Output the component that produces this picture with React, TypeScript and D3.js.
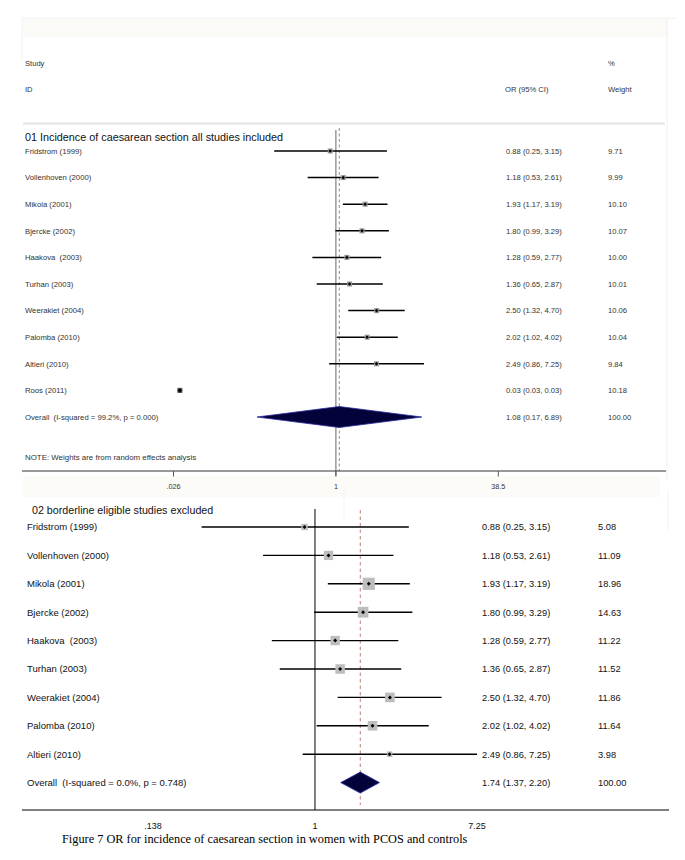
import React from "react";
import * as d3 from "d3";

const studies = ["Fridstrom (1999)", "Vollenhoven (2000)", "Mikola (2001)", "Bjercke (2002)", "Haakova  (2003)", "Turhan (2003)", "Weerakiet (2004)", "Palomba (2010)", "Altieri (2010)", "Roos (2011)"];
const orVals = [0.88, 1.18, 1.93, 1.80, 1.28, 1.36, 2.50, 2.02, 2.49, 0.03];
const loVals = [0.25, 0.53, 1.17, 0.99, 0.59, 0.65, 1.32, 1.02, 0.86, 0.03];
const hiVals = [3.15, 2.61, 3.19, 3.29, 2.77, 2.87, 4.70, 4.02, 7.25, 0.03];
const weights1 = [9.71, 9.99, 10.10, 10.07, 10.00, 10.01, 10.06, 10.04, 9.84, 10.18];
const weights2 = [5.08, 11.09, 18.96, 14.63, 11.22, 11.52, 11.86, 11.64, 3.98];
const overall1 = [1.08, 0.17, 6.89];
const overall2 = [1.74, 1.37, 2.20];
const overallLabel1 = "Overall  (I-squared = 99.2%, p = 0.000)";
const overallLabel2 = "Overall  (I-squared = 0.0%, p = 0.748)";
const ticks1 = [0.026, 1, 38.5];
const tickLabels1 = [".026", "1", "38.5"];
const ticks2 = [0.138, 1, 7.25];
const tickLabels2 = [".138", "1", "7.25"];
const title1 = "01 Incidence of caesarean section all studies included";
const title2 = "02 borderline eligible studies excluded";
const caption = "Figure 7 OR for incidence of caesarean section in women with PCOS and controls";

const fmt = (v: number) => v.toFixed(2);
const ciText = (o: number, l: number, h: number) => `${fmt(o)} (${fmt(l)}, ${fmt(h)})`;

export default function App() {
  const sans = "'Liberation Sans', Arial, sans-serif";
  const x1 = d3.scaleLog().domain([0.026, 38.5]).range([173.5, 498.3]);
  const y1 = d3.scaleLinear().domain([0, 1]).range([151, 177.6]);
  const x2 = d3.scaleLog().domain([0.138, 7.25]).range([153, 477]);
  const y2 = d3.scaleLinear().domain([0, 1]).range([527, 555.4]);
  const n1 = studies.length;
  const n2 = weights2.length;
  const yo1 = y1(n1);
  const yo2 = y2(n2);

  const diamond = (x: d3.ScaleLogarithmic<number, number>, y: number, v: number[], h: number) =>
    `M${x(v[1])},${y} L${x(v[0])},${y - h} L${x(v[2])},${y} L${x(v[0])},${y + h} Z`;

  const marker = (cx: number, cy: number, r: number) =>
    `M${cx - r},${cy} L${cx},${cy - r} L${cx + r},${cy} L${cx},${cy + r} Z`;

  return (
    <svg width={685} height={860} style={{ position: "absolute", left: 0, top: 0, display: "block", background: "#fff" }}>
      <rect x={23} y={19} width={644} height={18} fill="#fcfaf6" />
      <line x1={22} x2={676} y1={18} y2={18} stroke="#eef0f0" strokeWidth={1} />
      <line x1={22} x2={22} y1={18} y2={60} stroke="#f2f2f2" strokeWidth={1} />
      <line x1={667} x2={667} y1={19} y2={480} stroke="#f0f0f0" strokeWidth={1} />
      <rect x={23} y={476} width={637} height={21} fill="#fdfbf8" />
      <line x1={344} x2={344} y1={490} y2={523} stroke="#f3f3f3" strokeWidth={1} />
      <line x1={668} x2={668} y1={490} y2={530} stroke="#f3f3f3" strokeWidth={1} />

      <g fontFamily={sans} fontSize={7.6} fill="#333">
        <text x={25} y={66}>Study</text>
        <text x={25} y={92}>ID</text>
        <text x={505} y={92}>OR (95% CI)</text>
        <text x={608} y={66}>%</text>
        <text x={608} y={92}>Weight</text>
      </g>
      <line x1={23} x2={665} y1={123.5} y2={123.5} stroke="#e4e4e4" strokeWidth={2} />

      <line x1={x1(1)} x2={x1(1)} y1={130} y2={476} stroke="#8a8a8a" strokeWidth={1.3} />
      <line x1={x1(overall1[0])} x2={x1(overall1[0])} y1={128} y2={471} stroke="#b05a5a" strokeWidth={0.8} strokeDasharray="3,2.5" />
      <text x={25} y={141} fontFamily={sans} fontSize={10.8} fill="#111">{title1}</text>
      {studies.map((s, i) => {
        const cy = y1(i);
        const side = 1.6 * Math.sqrt(weights1[i]);
        return (
          <g key={s}>
            <text x={25} y={cy + 2.7} fontFamily={sans} fontSize={7.7} fill="#333" style={{ whiteSpace: "pre" }}>{s}</text>
            <line x1={x1(loVals[i])} x2={x1(hiVals[i])} y1={cy} y2={cy} stroke="#000" strokeWidth={1.5} />
            <rect x={x1(orVals[i]) - side / 2} y={cy - side / 2} width={side} height={side} fill={i === 9 ? "#666" : "#999"} />
            <path d={marker(x1(orVals[i]), cy, i === 9 ? 2.4 : 1.8)} fill="#000" />
            <text x={506} y={cy + 2.7} fontFamily={sans} fontSize={7.6} fill="#333">{ciText(orVals[i], loVals[i], hiVals[i])}</text>
            <text x={608} y={cy + 2.7} fontFamily={sans} fontSize={7.6} fill="#333">{fmt(weights1[i])}</text>
          </g>
        );
      })}
      <text x={25} y={yo1 + 2.7} fontFamily={sans} fontSize={7.7} fill="#333" style={{ whiteSpace: "pre" }}>{overallLabel1}</text>
      <path d={diamond(x1, yo1, overall1, 10.5)} fill="#03033a" stroke="#2a2aa0" strokeWidth={0.8} />
      <text x={506} y={yo1 + 2.7} fontFamily={sans} fontSize={7.6} fill="#333">{ciText(overall1[0], overall1[1], overall1[2])}</text>
      <text x={608} y={yo1 + 2.7} fontFamily={sans} fontSize={7.6} fill="#333">100.00</text>
      <text x={25} y={460} fontFamily={sans} fontSize={7.9} fill="#333">NOTE: Weights are from random effects analysis</text>
      <line x1={22} x2={666} y1={471} y2={471} stroke="#333" strokeWidth={1} />
      {ticks1.map((t, i) => (
        <g key={"t1" + i}>
          <line x1={x1(t)} x2={x1(t)} y1={471} y2={476.5} stroke="#555" strokeWidth={1} />
          <text x={x1(t)} y={489} textAnchor="middle" fontFamily={sans} fontSize={7.2} fill="#333">{tickLabels1[i]}</text>
        </g>
      ))}

      <line x1={x2(1)} x2={x2(1)} y1={509} y2={810} stroke="#000" strokeWidth={1} />
      <line x1={x2(overall2[0])} x2={x2(overall2[0])} y1={510} y2={805} stroke="#b05a5a" strokeWidth={0.8} strokeDasharray="3.5,3" />
      <text x={32} y={514} fontFamily={sans} fontSize={10.7} fill="#111">{title2}</text>
      {weights2.map((w, i) => {
        const cy = y2(i);
        const side = 2.8 * Math.sqrt(w);
        return (
          <g key={"b" + i}>
            <text x={27} y={cy + 3.3} fontFamily={sans} fontSize={9.5} fill="#111" style={{ whiteSpace: "pre" }}>{studies[i]}</text>
            <line x1={x2(loVals[i])} x2={x2(hiVals[i])} y1={cy} y2={cy} stroke="#000" strokeWidth={1.4} />
            <rect x={x2(orVals[i]) - side / 2} y={cy - side / 2} width={side} height={side} fill="#bdbdbd" />
            <path d={marker(x2(orVals[i]), cy, 2)} fill="#000" />
            <text x={482} y={cy + 3.3} fontFamily={sans} fontSize={9.3} fill="#111">{ciText(orVals[i], loVals[i], hiVals[i])}</text>
            <text x={598} y={cy + 3.3} fontFamily={sans} fontSize={9.3} fill="#111">{fmt(w)}</text>
          </g>
        );
      })}
      <text x={27} y={yo2 + 3.3} fontFamily={sans} fontSize={9.5} fill="#111" style={{ whiteSpace: "pre" }}>{overallLabel2}</text>
      <path d={diamond(x2, yo2, overall2, 10.5)} fill="#03033a" stroke="#2a2aa0" strokeWidth={0.8} />
      <text x={482} y={yo2 + 3.3} fontFamily={sans} fontSize={9.3} fill="#111">{ciText(overall2[0], overall2[1], overall2[2])}</text>
      <text x={598} y={yo2 + 3.3} fontFamily={sans} fontSize={9.3} fill="#111">100.00</text>
      <line x1={22} x2={669} y1={810} y2={810} stroke="#000" strokeWidth={1} />
      {ticks2.map((t, i) => (
        <text key={"t2" + i} x={x2(t)} y={828.5} textAnchor="middle" fontFamily={sans} fontSize={9} fill="#111">{tickLabels2[i]}</text>
      ))}
      <text x={62} y={843} fontFamily="'Liberation Serif', 'Times New Roman', serif" fontSize={12.3} fill="#000">{caption}</text>
    </svg>
  );
}
